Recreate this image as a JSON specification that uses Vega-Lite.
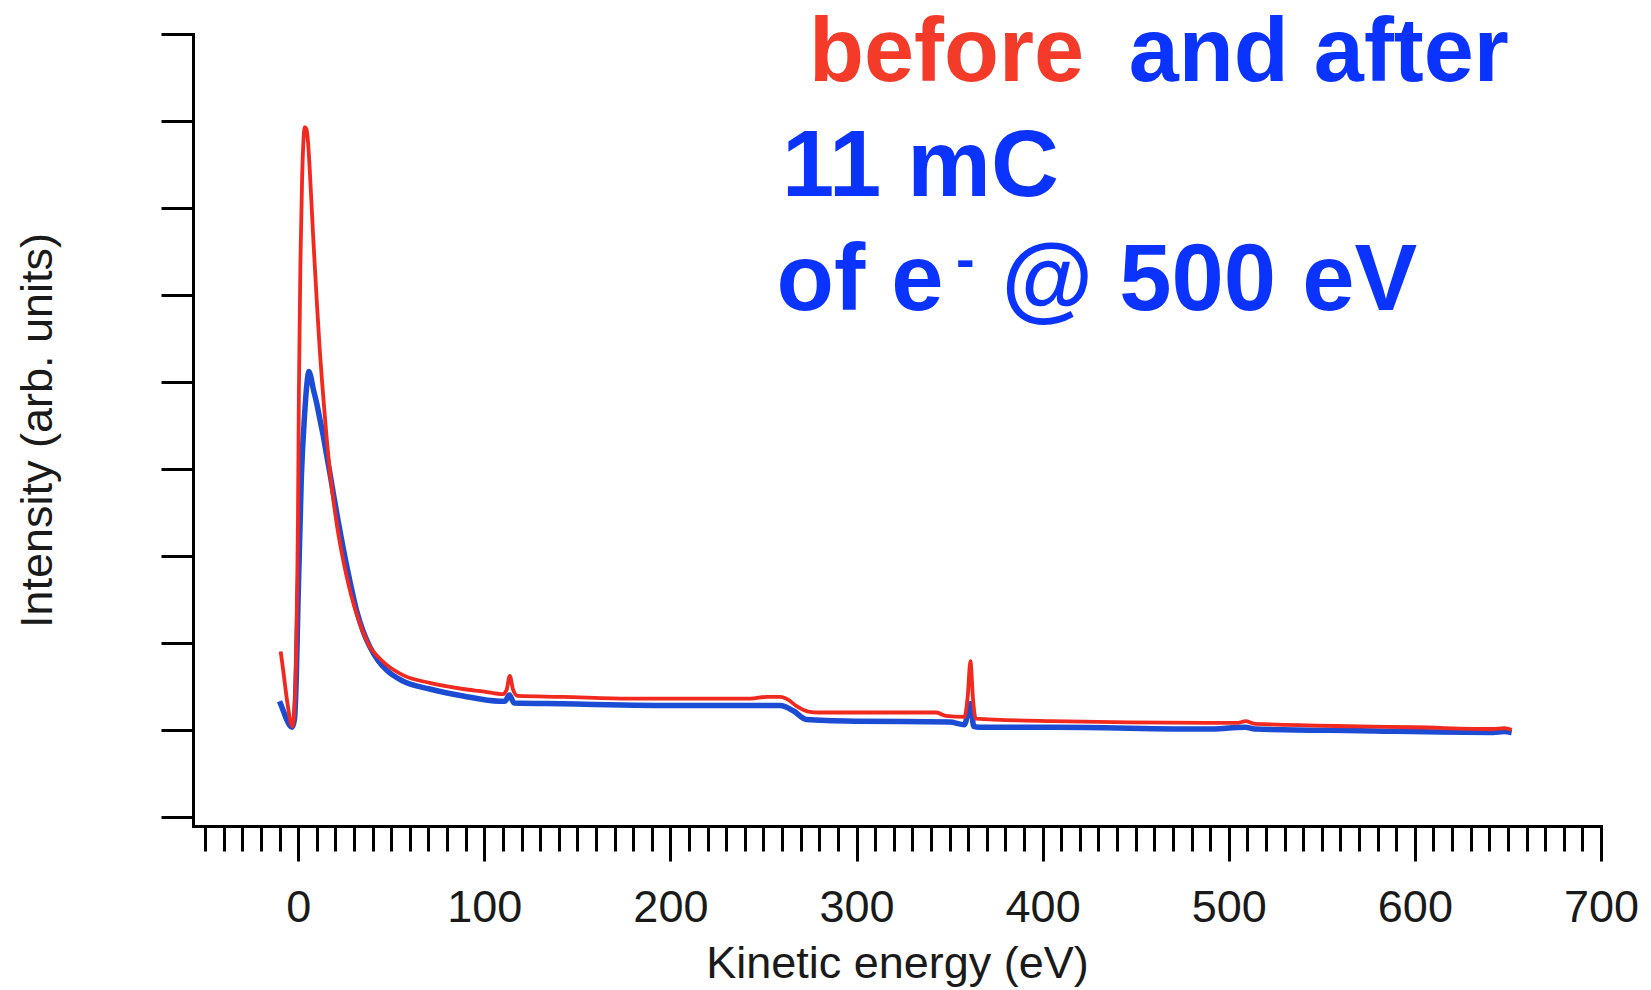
{
  "$schema": "https://vega.github.io/schema/vega-lite/v6.json",
  "autosize": "none",
  "width": 1408,
  "height": 792,
  "padding": {"left": 193, "top": 34, "right": 50, "bottom": 164},
  "background": "white",
  "config": {
    "view": {"stroke": null},
    "axis": {
      "grid": false,
      "domainColor": "#000000",
      "domainWidth": 3,
      "domainCap": "square",
      "tickColor": "#000000",
      "tickWidth": 3,
      "labelFont": "Liberation Sans",
      "titleFont": "Liberation Sans",
      "labelColor": "#1a1a1a",
      "titleColor": "#1a1a1a",
      "titleFontWeight": "normal",
      "labelFontSize": 45,
      "titleFontSize": 45
    }
  },
  "datasets": {
    "spectra": [
      {"series": "after", "energy": -10, "intensity": 1.33},
      {"series": "after", "energy": -8, "intensity": 1.22},
      {"series": "after", "energy": -6, "intensity": 1.11},
      {"series": "after", "energy": -4.5, "intensity": 1.05},
      {"series": "after", "energy": -3.2, "intensity": 1.03},
      {"series": "after", "energy": -2, "intensity": 1.12},
      {"series": "after", "energy": -1, "intensity": 1.6},
      {"series": "after", "energy": -0.1, "intensity": 2.44},
      {"series": "after", "energy": 1.7, "intensity": 3.9},
      {"series": "after", "energy": 3.5, "intensity": 4.64},
      {"series": "after", "energy": 4.8, "intensity": 5.0},
      {"series": "after", "energy": 5.8, "intensity": 5.12},
      {"series": "after", "energy": 6.8, "intensity": 5.06},
      {"series": "after", "energy": 8.0, "intensity": 4.93},
      {"series": "after", "energy": 9.8, "intensity": 4.77},
      {"series": "after", "energy": 11.6, "intensity": 4.58},
      {"series": "after", "energy": 13.4, "intensity": 4.39},
      {"series": "after", "energy": 15.2, "intensity": 4.17},
      {"series": "after", "energy": 17.0, "intensity": 3.96},
      {"series": "after", "energy": 18.8, "intensity": 3.73},
      {"series": "after", "energy": 21.5, "intensity": 3.4},
      {"series": "after", "energy": 24.1, "intensity": 3.1},
      {"series": "after", "energy": 27.7, "intensity": 2.72},
      {"series": "after", "energy": 31.3, "intensity": 2.38},
      {"series": "after", "energy": 34.8, "intensity": 2.14},
      {"series": "after", "energy": 38.4, "intensity": 1.96},
      {"series": "after", "energy": 42.9, "intensity": 1.8},
      {"series": "after", "energy": 47.4, "intensity": 1.69},
      {"series": "after", "energy": 56.3, "intensity": 1.56},
      {"series": "after", "energy": 70.7, "intensity": 1.47},
      {"series": "after", "energy": 88.6, "intensity": 1.39},
      {"series": "after", "energy": 108, "intensity": 1.33},
      {"series": "after", "energy": 111, "intensity": 1.33},
      {"series": "after", "energy": 113.5, "intensity": 1.4},
      {"series": "after", "energy": 116, "intensity": 1.31},
      {"series": "after", "energy": 142, "intensity": 1.3},
      {"series": "after", "energy": 206, "intensity": 1.28},
      {"series": "after", "energy": 259, "intensity": 1.28},
      {"series": "after", "energy": 266, "intensity": 1.22},
      {"series": "after", "energy": 273, "intensity": 1.12},
      {"series": "after", "energy": 300, "intensity": 1.1},
      {"series": "after", "energy": 350, "intensity": 1.09},
      {"series": "after", "energy": 358, "intensity": 1.06},
      {"series": "after", "energy": 361.2, "intensity": 1.3},
      {"series": "after", "energy": 363, "intensity": 1.04},
      {"series": "after", "energy": 366, "intensity": 1.03},
      {"series": "after", "energy": 405, "intensity": 1.03},
      {"series": "after", "energy": 488, "intensity": 1.01},
      {"series": "after", "energy": 509, "intensity": 1.03},
      {"series": "after", "energy": 514, "intensity": 1.01},
      {"series": "after", "energy": 570, "intensity": 0.99},
      {"series": "after", "energy": 642, "intensity": 0.97},
      {"series": "after", "energy": 648, "intensity": 0.98},
      {"series": "after", "energy": 652, "intensity": 0.97},
      {"series": "before", "energy": -9.4, "intensity": 1.9},
      {"series": "before", "energy": -8, "intensity": 1.68},
      {"series": "before", "energy": -6.5, "intensity": 1.42},
      {"series": "before", "energy": -5, "intensity": 1.2},
      {"series": "before", "energy": -4, "intensity": 1.09},
      {"series": "before", "energy": -3.2, "intensity": 1.04},
      {"series": "before", "energy": -2.4, "intensity": 1.12},
      {"series": "before", "energy": -1.6, "intensity": 1.45},
      {"series": "before", "energy": -1.0, "intensity": 1.96},
      {"series": "before", "energy": -0.5, "intensity": 2.7},
      {"series": "before", "energy": -0.1, "intensity": 3.43},
      {"series": "before", "energy": 0.4, "intensity": 4.89},
      {"series": "before", "energy": 1.2, "intensity": 6.35},
      {"series": "before", "energy": 2.1, "intensity": 7.32},
      {"series": "before", "energy": 2.8, "intensity": 7.75},
      {"series": "before", "energy": 3.5, "intensity": 7.93},
      {"series": "before", "energy": 4.4, "intensity": 7.91},
      {"series": "before", "energy": 5.3, "intensity": 7.76},
      {"series": "before", "energy": 6.2, "intensity": 7.45},
      {"series": "before", "energy": 7.1, "intensity": 7.08},
      {"series": "before", "energy": 8.0, "intensity": 6.7},
      {"series": "before", "energy": 8.9, "intensity": 6.35},
      {"series": "before", "energy": 10.2, "intensity": 5.86},
      {"series": "before", "energy": 11.6, "intensity": 5.37},
      {"series": "before", "energy": 12.9, "intensity": 4.99},
      {"series": "before", "energy": 14.2, "intensity": 4.64},
      {"series": "before", "energy": 15.5, "intensity": 4.31},
      {"series": "before", "energy": 16.9, "intensity": 4.0},
      {"series": "before", "energy": 18.7, "intensity": 3.68},
      {"series": "before", "energy": 20.5, "intensity": 3.4},
      {"series": "before", "energy": 23.2, "intensity": 3.06},
      {"series": "before", "energy": 25.9, "intensity": 2.78},
      {"series": "before", "energy": 28.6, "intensity": 2.54},
      {"series": "before", "energy": 31.3, "intensity": 2.34},
      {"series": "before", "energy": 34.8, "intensity": 2.13},
      {"series": "before", "energy": 38.4, "intensity": 1.96},
      {"series": "before", "energy": 42.9, "intensity": 1.84},
      {"series": "before", "energy": 47.4, "intensity": 1.75},
      {"series": "before", "energy": 56.3, "intensity": 1.63},
      {"series": "before", "energy": 70.7, "intensity": 1.54},
      {"series": "before", "energy": 88.6, "intensity": 1.47},
      {"series": "before", "energy": 100, "intensity": 1.44},
      {"series": "before", "energy": 110, "intensity": 1.41},
      {"series": "before", "energy": 112, "intensity": 1.46},
      {"series": "before", "energy": 113.7, "intensity": 1.62},
      {"series": "before", "energy": 115.5, "intensity": 1.46},
      {"series": "before", "energy": 118, "intensity": 1.39},
      {"series": "before", "energy": 142, "intensity": 1.38},
      {"series": "before", "energy": 178, "intensity": 1.36},
      {"series": "before", "energy": 243, "intensity": 1.36},
      {"series": "before", "energy": 252, "intensity": 1.38},
      {"series": "before", "energy": 259, "intensity": 1.38},
      {"series": "before", "energy": 263, "intensity": 1.35},
      {"series": "before", "energy": 268, "intensity": 1.27},
      {"series": "before", "energy": 274, "intensity": 1.21},
      {"series": "before", "energy": 280, "intensity": 1.2},
      {"series": "before", "energy": 300, "intensity": 1.2},
      {"series": "before", "energy": 343, "intensity": 1.2},
      {"series": "before", "energy": 348, "intensity": 1.16},
      {"series": "before", "energy": 358, "intensity": 1.15},
      {"series": "before", "energy": 359.8, "intensity": 1.4},
      {"series": "before", "energy": 361.2, "intensity": 1.79},
      {"series": "before", "energy": 362.6, "intensity": 1.35},
      {"series": "before", "energy": 364, "intensity": 1.13},
      {"series": "before", "energy": 405, "intensity": 1.1},
      {"series": "before", "energy": 488, "intensity": 1.08},
      {"series": "before", "energy": 505, "intensity": 1.08},
      {"series": "before", "energy": 509, "intensity": 1.1},
      {"series": "before", "energy": 514, "intensity": 1.07},
      {"series": "before", "energy": 570, "intensity": 1.04},
      {"series": "before", "energy": 600, "intensity": 1.03},
      {"series": "before", "energy": 642, "intensity": 1.01},
      {"series": "before", "energy": 648, "intensity": 1.02},
      {"series": "before", "energy": 652, "intensity": 1.0}
    ],
    "headline": [
      {"series": "before", "text": "before", "energy": 274.5, "intensity": 8.465},
      {"series": "after", "text": "and after", "energy": 446.3, "intensity": 8.465}
    ],
    "notes": [
      {"series": "after", "text": "11 mC", "energy": 259.9, "intensity": 7.142},
      {"series": "after", "text": "of e", "energy": 257.0, "intensity": 5.831},
      {"series": "after", "text": "@ 500 eV", "energy": 377.9, "intensity": 5.831}
    ],
    "superscripts": [
      {"series": "after", "text": "-", "energy": 353.5, "intensity": 6.2}
    ]
  },
  "encoding": {
    "x": {
      "field": "energy",
      "type": "quantitative",
      "scale": {"domain": [-56.5, 700], "nice": false, "zero": false},
      "axis": {
        "title": "Kinetic energy (eV)",
        "values": [-50, -40, -30, -20, -10, 0, 10, 20, 30, 40, 50, 60, 70, 80, 90, 100, 110, 120, 130, 140, 150, 160, 170, 180, 190, 200, 210, 220, 230, 240, 250, 260, 270, 280, 290, 300, 310, 320, 330, 340, 350, 360, 370, 380, 390, 400, 410, 420, 430, 440, 450, 460, 470, 480, 490, 500, 510, 520, 530, 540, 550, 560, 570, 580, 590, 600, 610, 620, 630, 640, 650, 660, 670, 680, 690, 700],
        "tickSize": {"condition": {"test": "datum.value % 100 === 0", "value": 35}, "value": 25},
        "labelExpr": "datum.value % 100 === 0 ? datum.label : ''",
        "labelOverlap": false,
        "labelFlush": false,
        "labelPadding": 24,
        "titlePadding": 11
      }
    },
    "y": {
      "field": "intensity",
      "type": "quantitative",
      "scale": {"domain": [-0.105, 9], "nice": false, "zero": false},
      "axis": {
        "title": "Intensity (arb. units)",
        "values": [0, 1, 2, 3, 4, 5, 6, 7, 8, 9],
        "tickSize": 32,
        "labels": false,
        "titlePadding": 99
      }
    }
  },
  "layer": [
    {
      "data": {"name": "spectra"},
      "transform": [{"filter": "datum.series === 'after'"}],
      "mark": {"type": "line", "color": "#1d4cd4", "strokeWidth": 5.5, "interpolate": "monotone", "strokeJoin": "round"}
    },
    {
      "data": {"name": "spectra"},
      "transform": [{"filter": "datum.series === 'before'"}],
      "mark": {"type": "line", "color": "#f2291f", "strokeWidth": 3.8, "interpolate": "monotone", "strokeJoin": "round"}
    },
    {
      "data": {"name": "headline"},
      "mark": {"type": "text", "align": "left", "baseline": "alphabetic", "font": "Liberation Sans", "fontWeight": "bold", "fontSize": 90},
      "encoding": {
        "text": {"field": "text"},
        "color": {"field": "series", "type": "nominal", "scale": {"domain": ["before", "after"], "range": ["#f43b2a", "#0b33ff"]}, "legend": null}
      }
    },
    {
      "data": {"name": "notes"},
      "mark": {"type": "text", "align": "left", "baseline": "alphabetic", "font": "Liberation Sans", "fontWeight": "bold", "fontSize": 94},
      "encoding": {
        "text": {"field": "text"},
        "color": {"field": "series", "type": "nominal", "scale": {"domain": ["before", "after"], "range": ["#f43b2a", "#0b33ff"]}, "legend": null}
      }
    },
    {
      "data": {"name": "superscripts"},
      "mark": {"type": "text", "align": "left", "baseline": "alphabetic", "font": "Liberation Sans", "fontWeight": "bold", "fontSize": 56},
      "encoding": {
        "text": {"field": "text"},
        "color": {"field": "series", "type": "nominal", "scale": {"domain": ["before", "after"], "range": ["#f43b2a", "#0b33ff"]}, "legend": null}
      }
    }
  ]
}
